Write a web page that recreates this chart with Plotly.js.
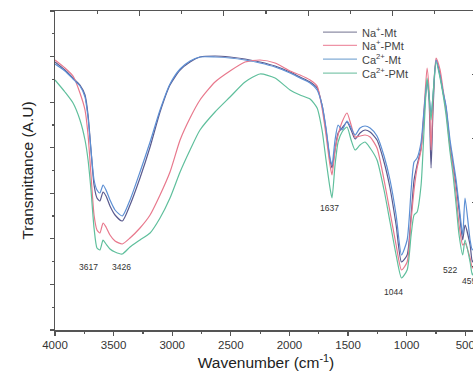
<!DOCTYPE html>
<html>
<head>
<meta charset="utf-8">
<script src="https://cdn.plot.ly/plotly-3.0.1.min.js"></script>
<style>
html,body{margin:0;padding:0;overflow:hidden;background:#fff;}
#chart{width:478px;height:382px;}
</style>
</head>
<body>
<div id="chart"></div>
<script>
// Wavenumber grid (cm-1)
const wavenumber = [4000,3915,3846,3787,3744,3718,3693,3667,3642,3617,3590,3565,3531,3488,3426,3360,3275,3189,3104,3019,2933,2848,2763,2635,2507,2379,2251,2123,1995,1910,1824,1764,1722,1688,1654,1637,1611,1585,1551,1509,1474,1440,1398,1355,1312,1253,1193,1142,1090,1044,996,962,937,911,877,852,826,809,792,775,749,715,689,664,630,604,578,553,522,502,459,440,420,400];

// Transmittance (arbitrary units)
const naMt  = [268,260,252,245,235,215,180,145,132,129,138,134,124,115,109,125,152,183,218,245,260,268,273,274,273,271,268,264,258,253,248,242,225,200,170,162,180,197,202,208,200,191,197,200,198,190,168,142,105,68,75,115,150,165,182,215,248,230,162,220,270,255,237,222,185,165,145,120,90,105,85,68,75,90];
const naPMt = [270,262,254,237,220,195,155,115,100,97,107,103,95,89,86,92,102,115,135,158,190,212,230,248,259,268,270,267,259,255,250,244,222,195,165,155,180,195,208,217,205,193,194,195,193,182,150,118,85,60,68,110,140,162,180,220,262,240,180,230,272,260,240,220,182,162,135,105,85,87,72,62,68,80];
const caMt  = [266,259,251,244,233,212,180,150,140,137,145,140,130,120,114,130,158,188,220,246,261,269,273,273,272,270,267,263,257,252,247,240,225,202,172,165,190,205,200,209,202,195,202,204,202,194,174,150,115,75,90,140,168,172,188,220,250,235,215,235,270,254,238,224,190,170,150,125,95,132,90,80,85,95];
const caPMt = [250,238,227,210,190,170,140,102,82,80,90,86,81,78,76,83,90,97,112,132,158,180,200,218,233,248,256,252,240,235,231,222,200,170,142,132,165,188,198,203,190,180,185,188,182,170,140,108,75,52,60,95,115,118,145,200,252,235,210,235,268,252,235,215,178,155,125,95,75,90,68,55,62,75];

const seriesNames  = ['Na<sup>+</sup>-Mt','Na<sup>+</sup>-PMt','Ca<sup>2+</sup>-Mt','Ca<sup>2+</sup>-PMt'];
const seriesColors = ['#5a5a8e','#e8788c','#5c8fd4','#5fbf9c'];
const legendColors = ['#8e8ea6','#ee93a6','#82acd6','#82c8ae'];
const seriesData   = [naMt, naPMt, caMt, caPMt];

// Peak labels
const peakLabels = ['3617','3426','1637','1044','522','459'];
const peakX      = [3718,3437,1662,1116,630,468];
const peakY      = [63,63,122,38,60,49];

const traces = seriesData.map((ys,i)=>({
  type:'scatter', mode:'lines', x: wavenumber, y: ys, name: seriesNames[i], showlegend:false,
  line:{color: seriesColors[i], width:1.2, shape:'spline', smoothing:0.6}
}));
traces.push({type:'scatter', mode:'lines', x:[null], y:[null], xaxis:'x2', yaxis:'y2', showlegend:false, hoverinfo:'skip'});

// Legend (drawn as paper-positioned shapes + text)
const legX0 = 0.635, legX1 = 0.7156, legTextX = 0.722;
const legY = [0.934, 0.8925, 0.849, 0.8055];
const legendShapes = seriesNames.map((n,i)=>({type:'line', xref:'paper', yref:'paper', x0:legX0, x1:legX1, y0:legY[i], y1:legY[i], line:{color:legendColors[i], width:1.3}}));
const legendTexts = seriesNames.map((n,i)=>({xref:'paper', yref:'paper', x:legTextX, y:legY[i], xanchor:'left', yanchor:'middle', text:n, showarrow:false, font:{size:11, color:'#444'}}));

const axCol = '#555';
const layout = {
  width:478, height:382,
  margin:{l:55, r:1, t:11, b:52},
  paper_bgcolor:'#fff', plot_bgcolor:'#fff',
  font:{family:'"Liberation Sans", Arial, sans-serif', color:'#333'},
  showlegend:false,
  xaxis:{
    range:[4000,400], tickvals:[4000,3500,3000,2500,2000,1500,1000,500],
    showgrid:false, zeroline:false, showline:true, linecolor:axCol, linewidth:1.5,
    ticks:'outside', ticklen:4, tickcolor:axCol, tickwidth:1.2,
    minor:{tickvals:[3750,3250,2750,2250,1750,1250,750], ticks:'outside', ticklen:2, tickcolor:axCol},
    tickfont:{size:11.5, color:'#333'},
    title:{text:'Wavenumber (cm<sup>-1</sup>)', font:{size:15.5, color:'#222'}, standoff:7}
  },
  yaxis:{
    range:[0,319], tick0:0, dtick:319/7, showticklabels:false,
    showgrid:false, zeroline:false, showline:true, linecolor:axCol, linewidth:1.5,
    ticks:'outside', ticklen:4, tickcolor:axCol, tickwidth:1.2,
    minor:{dtick:319/14, ticks:'outside', ticklen:2, tickcolor:axCol},
    title:{text:'Transmittance (A.U)', font:{size:15.5, color:'#222'}, standoff:12}
  },
  xaxis2:{
    overlaying:'x', side:'top', anchor:'y', range:[0,10], tick0:0, dtick:2, showticklabels:false,
    showgrid:false, zeroline:false, showline:true, linecolor:axCol, linewidth:1.5,
    ticks:'inside', ticklen:5, tickcolor:axCol, tickwidth:1.2,
    minor:{dtick:1, ticks:'inside', ticklen:3, tickcolor:axCol}
  },
  yaxis2:{
    overlaying:'y', side:'right', anchor:'x', range:[0,5], tick0:0, dtick:1, showticklabels:false,
    showgrid:false, zeroline:false, showline:true, linecolor:axCol, linewidth:1.5,
    ticks:'inside', ticklen:5, tickcolor:axCol, tickwidth:1.2
  },
  shapes: legendShapes,
  annotations: peakLabels.map((t,i)=>({x:peakX[i], y:peakY[i], xref:'x', yref:'y', text:t, showarrow:false, font:{size:8.5, color:'#333'}})).concat(legendTexts)
};

Plotly.newPlot('chart', traces, layout, {displayModeBar:false, staticPlot:true});
</script>
</body>
</html>
